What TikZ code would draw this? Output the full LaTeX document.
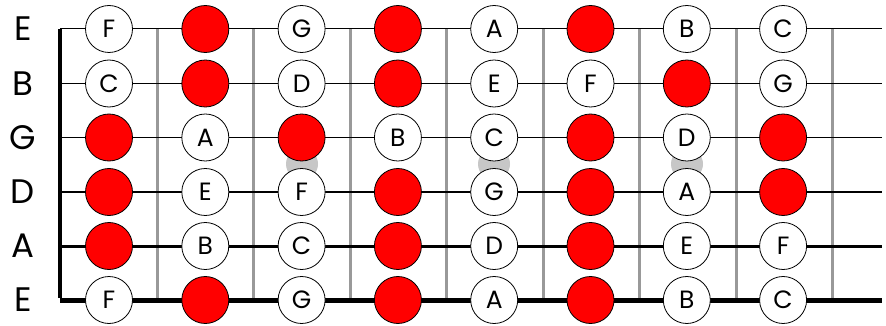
\documentclass[tikz,border=0pt]{standalone}
\usepackage{fontspec}
\setmainfont{Poppins}
\begin{document}
\begin{tikzpicture}[x=1pt,y=-1pt,
  note/.style={circle, draw=black, line width=0.8pt, fill=white, minimum size=47pt, inner sep=0pt, font=\fontsize{25}{25}\selectfont},
  hit/.style={note, fill=red},
  marker/.style={circle, fill=black!22, minimum size=32pt, inner sep=0pt},
  fretline/.style={line width=3pt, draw=black!40},
  strlabel/.style={inner sep=0pt, font=\fontsize{34}{34}\selectfont},
  nutline/.style={line width=3.2pt, draw=black}]
\useasboundingbox (0,0) rectangle (886,326);
\def\hitmark{*}
% fret position markers
\node[marker] (m3) at (302,164) {};
\node[marker] (m5) at (494,164) {};
\node[marker] (m7) at (687,164) {};
% string end coordinates
\foreach \s/\y in {1/29,2/83.5,3/137.5,4/192,5/246,6/300}{
  \coordinate (a\s) at (60,\y);
  \coordinate (b\s) at (882,\y);
}
% frets
\foreach \i/\x in {1/157,2/253,3/350,4/446,5/543,6/639,7/736,8/832}{
  \coordinate (ft\i) at (\x,29);
  \coordinate (fb\i) at (\x,300);
  \draw[fretline] (ft\i) -- (fb\i);
}
% strings
\foreach \s/\w in {1/1,2/1.4,3/1.9,4/2.4,5/3,6/5}{
  \draw[line width=\w pt] (a\s) -- (b\s);
}
% nut
\draw[nutline] ([yshift=-0.5pt]a1) -- ([yshift=2.5pt]a6);
% string labels
\foreach \s/\y/\t in {1/29/E,2/83.5/B,3/137.5/G,4/192/D,5/246/A,6/300/E}{
  \node[strlabel] (l\s) at (23,\y) {\t};
}
% notes
\foreach \s/\y/\row in {
  1/29/{F,*,G,*,A,*,B,C},
  2/83.5/{C,*,D,*,E,F,*,G},
  3/137.5/{*,A,*,B,C,*,D,*},
  4/192/{*,E,F,*,G,*,A,*},
  5/246/{*,B,C,*,D,*,E,F},
  6/300/{F,*,G,*,A,*,B,C}}{
  \foreach \t [count=\f] in \row {
    \pgfmathsetmacro{\xx}{109+96.3*(\f-1)}
    \ifx\t\hitmark
      \node[hit] (n\s-\f) at (\xx,\y) {};
    \else
      \node[note] (n\s-\f) at (\xx,\y) {\t};
    \fi
  }
}
\end{tikzpicture}
\end{document}
